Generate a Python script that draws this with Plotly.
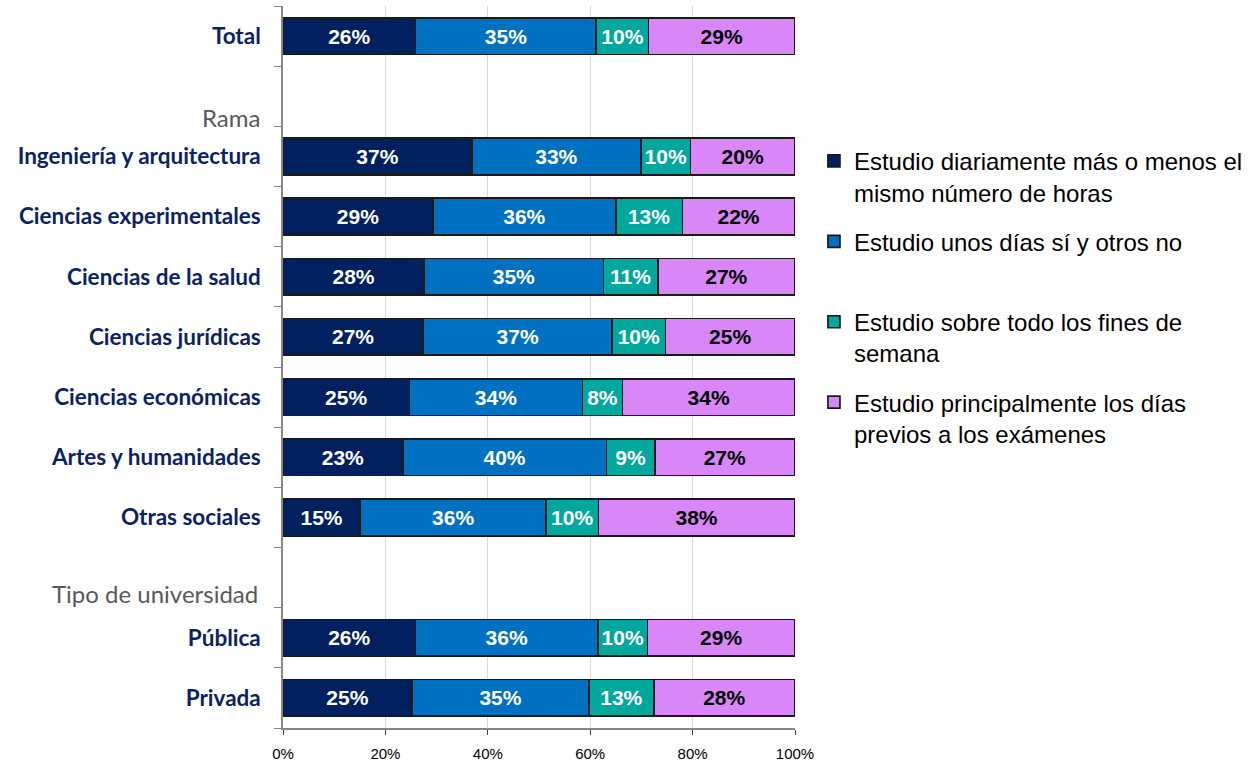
import plotly.graph_objects as go

# ---- data ----
rows = ["Total", "Ingeniería y arquitectura", "Ciencias experimentales",
        "Ciencias de la salud", "Ciencias jurídicas", "Ciencias económicas",
        "Artes y humanidades", "Otras sociales", "Pública", "Privada"]
section_rama = "Rama"
section_tipo = "Tipo de universidad"
axis_order = ["Total", section_rama, "Ingeniería y arquitectura", "Ciencias experimentales",
              "Ciencias de la salud", "Ciencias jurídicas", "Ciencias económicas",
              "Artes y humanidades", "Otras sociales", section_tipo, "Pública", "Privada"]

series_names = [
    "Estudio diariamente más o menos el<br>mismo número de horas",
    "Estudio unos días sí y otros no<br>&nbsp;",
    "Estudio sobre todo los fines de<br>semana",
    "Estudio principalmente los días<br>previos a los exámenes",
]
diario =      [25.9, 36.9, 29.3, 27.6, 27.4, 24.7, 23.4, 15.1, 25.9, 25.2]
unos_dias =   [35.3, 33.0, 35.7, 35.0, 36.9, 33.8, 39.8, 36.3, 35.6, 34.6]
fines =       [10.2,  9.7, 13.0, 10.6, 10.4,  7.8,  9.4, 10.2,  9.7, 12.6]
previos =     [28.6, 20.4, 22.0, 26.8, 25.3, 33.7, 27.4, 38.4, 28.8, 27.6]
labels_diario = [26, 37, 29, 28, 27, 25, 23, 15, 26, 25]
labels_unos =   [35, 33, 36, 35, 37, 34, 40, 36, 36, 35]
labels_fines =  [10, 10, 13, 11, 10, 8, 9, 10, 10, 13]
labels_prev =   [29, 20, 22, 27, 25, 34, 27, 38, 29, 28]

x_ticks = [0, 20, 40, 60, 80, 100]

colors = ["#002060", "#0070C0", "#00A79D", "#D886F8"]
text_colors = ["white", "white", "white", "black"]

fig = go.Figure()
for i, (vals, labs) in enumerate([(diario, labels_diario), (unos_dias, labels_unos),
                                  (fines, labels_fines), (previos, labels_prev)]):
    fig.add_trace(go.Bar(
        y=rows, x=vals, orientation="h", name=series_names[i],
        legendgroup=f"g{i}",
        marker=dict(color=colors[i], line=dict(color="#1A1A1A", width=1.7)),
        text=[f"{v}%" for v in labs], textposition="inside",
        insidetextanchor="middle", textangle=0,
        textfont=dict(family="Arial, Liberation Sans", size=21, color=text_colors[i], weight="bold"),
        width=0.61,
    ))

fig.update_layout(
    barmode="stack",
    width=1258, height=761,
    margin=dict(l=283, r=463, t=6, b=33, autoexpand=False),
    plot_bgcolor="white", paper_bgcolor="white",
    showlegend=True,
    legend=dict(
        x=1.037, y=0.816, xanchor="left", yanchor="top",
        font=dict(family="Arial, Liberation Sans", size=24, color="black"),
        traceorder="grouped", tracegroupgap=15, valign="top",
        itemwidth=30,
    ),
    xaxis=dict(
        range=[0, 100], tickvals=x_ticks, ticktext=[f"{t}%" for t in x_ticks],
        showgrid=True, gridcolor="#D9D9D9", gridwidth=1,
        showline=True, linecolor="#868686", linewidth=1.5,
        ticks="outside", ticklen=5, tickcolor="#404040",
        tickfont=dict(family="Arial, Liberation Sans", size=15, color="black"),
        ticklabelstandoff=6, automargin=False,
        zeroline=False, fixedrange=True,
    ),
    yaxis=dict(
        type="category", categoryorder="array", categoryarray=axis_order,
        autorange="reversed",
        tickmode="array", tickvals=axis_order,
        ticktext=["" if c in (section_rama, section_tipo) else c for c in axis_order],
        tickson="boundaries", ticks="outside", ticklen=7, tickcolor="#868686",
        showline=True, linecolor="#868686", linewidth=1.5,
        tickfont=dict(family="Lato", size=22.5, color="#0B2265", weight="bold"),
        ticklabelstandoff=16, automargin=False,
        showgrid=False, fixedrange=True,
    ),
    annotations=[
        dict(text=section_rama, x=0, xref="paper", xanchor="right", xshift=-21,
             y=section_rama, yref="y", yshift=-21, showarrow=False,
             font=dict(family="Lato", size=24, color="#595959")),
        dict(text=section_tipo, x=0, xref="paper", xanchor="right", xshift=-23,
             y=section_tipo, yref="y", yshift=-16, showarrow=False,
             font=dict(family="Lato", size=24, color="#595959")),
    ],
)

fig.write_html("out.html", config={"displayModeBar": False},
               post_script="document.body.style.margin='0px';")
